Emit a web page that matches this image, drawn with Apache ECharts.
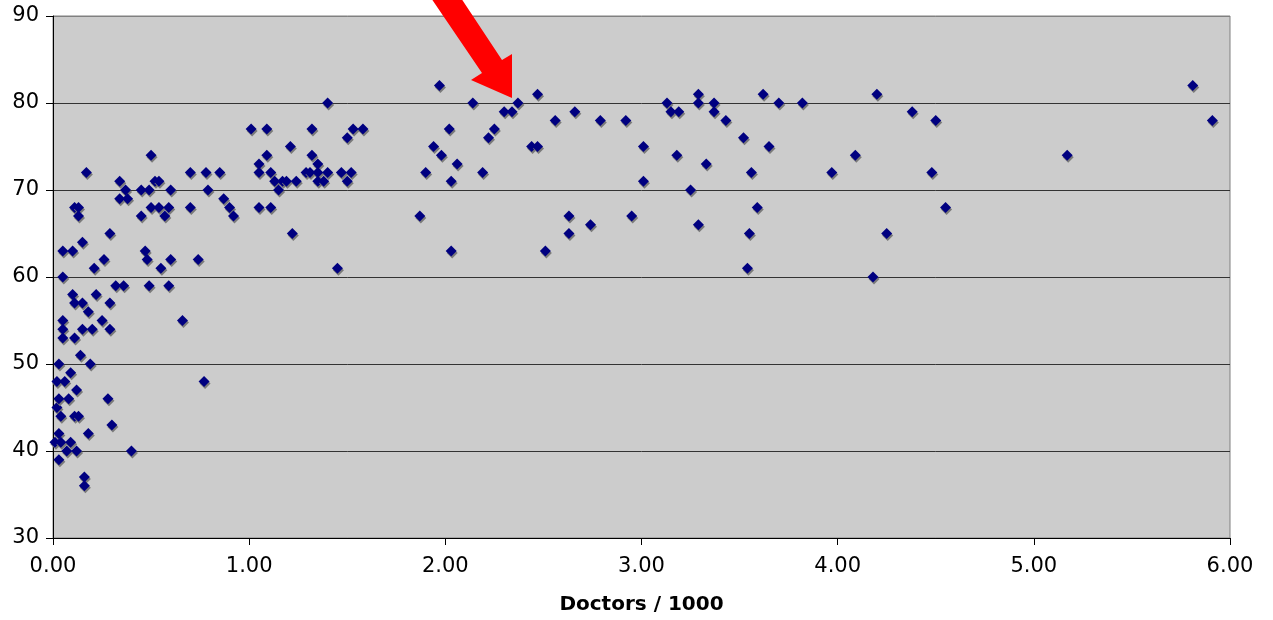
<!DOCTYPE html>
<html>
<head>
<meta charset="utf-8">
<script src="https://cdn.jsdelivr.net/npm/echarts@6/dist/echarts.min.js"></script>
<style>
  html, body { margin: 0; padding: 0; background: #fff; }
  #chart { width: 1273px; height: 620px; }
</style>
</head>
<body>
<div id="chart"></div>
<script>
// doctors per 1000 people vs life expectancy, one point per country

const xAxisName = 'Doctors / 1000'
const xRange = [0, 6]
const yRange = [30, 90]

// [doctors / 1000, life expectancy]
const points = [
    // under 0.5
    [0.01, 41], [0.02, 48], [0.02, 45], [0.03, 50], [0.03, 46], [0.03, 42], [0.03, 39],
    [0.04, 44], [0.04, 41], [0.05, 63], [0.05, 60], [0.05, 55], [0.05, 54], [0.05, 53],
    [0.06, 48], [0.07, 40], [0.08, 46], [0.09, 49], [0.09, 41], [0.10, 63], [0.10, 58],
    [0.11, 68], [0.11, 57], [0.11, 53], [0.11, 44], [0.12, 47], [0.12, 40], [0.13, 68],
    [0.13, 67], [0.13, 44], [0.14, 51], [0.15, 64], [0.15, 57], [0.15, 54], [0.16, 37],
    [0.16, 36], [0.17, 72], [0.18, 56], [0.18, 42], [0.19, 50], [0.20, 54], [0.21, 61],
    [0.22, 58], [0.25, 55], [0.26, 62], [0.28, 46], [0.29, 65], [0.29, 57], [0.29, 54],
    [0.30, 43], [0.32, 59], [0.34, 71], [0.34, 69], [0.36, 59], [0.37, 70], [0.38, 69],
    [0.40, 40], [0.45, 70], [0.45, 67], [0.47, 63], [0.48, 62], [0.49, 70], [0.49, 59],
    // 0.5 - 1
    [0.50, 74], [0.50, 68], [0.52, 71], [0.54, 71], [0.54, 68], [0.55, 61], [0.57, 67],
    [0.59, 68], [0.59, 59], [0.60, 70], [0.60, 62], [0.66, 55], [0.70, 72], [0.70, 68],
    [0.74, 62], [0.77, 48], [0.78, 72], [0.79, 70], [0.85, 72], [0.87, 69], [0.90, 68],
    [0.92, 67],
    // 1 - 2
    [1.01, 77], [1.05, 73], [1.05, 72], [1.05, 68], [1.09, 77], [1.09, 74], [1.11, 72],
    [1.11, 68], [1.13, 71], [1.15, 70], [1.17, 71], [1.19, 71], [1.21, 75], [1.22, 65],
    [1.24, 71], [1.29, 72], [1.31, 72], [1.32, 77], [1.32, 74], [1.35, 73], [1.35, 72],
    [1.35, 71], [1.38, 71], [1.40, 80], [1.40, 72], [1.45, 61], [1.47, 72], [1.50, 76],
    [1.50, 71], [1.52, 72], [1.53, 77], [1.58, 77], [1.87, 67], [1.90, 72], [1.94, 75],
    [1.97, 82], [1.98, 74],
    // 2 - 3
    [2.02, 77], [2.03, 71], [2.03, 63], [2.06, 73], [2.14, 80], [2.19, 72], [2.22, 76],
    [2.25, 77], [2.30, 79], [2.34, 79], [2.37, 80], [2.44, 75], [2.47, 81], [2.47, 75],
    [2.51, 63], [2.56, 78], [2.63, 67], [2.63, 65], [2.66, 79], [2.74, 66], [2.79, 78],
    [2.92, 78], [2.95, 67],
    // 3 and up
    [3.01, 75], [3.01, 71], [3.13, 80], [3.15, 79], [3.18, 74], [3.19, 79], [3.25, 70],
    [3.29, 81], [3.29, 80], [3.29, 66], [3.33, 73], [3.37, 80], [3.37, 79], [3.43, 78],
    [3.52, 76], [3.54, 61], [3.55, 65], [3.56, 72], [3.59, 68], [3.62, 81], [3.65, 75],
    [3.70, 80], [3.82, 80], [3.97, 72], [4.09, 74], [4.18, 60], [4.20, 81], [4.25, 65],
    [4.38, 79], [4.48, 72], [4.50, 78], [4.55, 68], [5.17, 74], [5.81, 82], [5.91, 78]
]

// red arrow (annotation, in pixels of the picture)
const arrowShape = [
    [429, -5], [482, 73], [471, 80], [512, 98], [512, 54], [502, 60], [459, -5]
]

const chart = echarts.init(document.getElementById('chart'))

const options = {
    animation: false,
    grid: {
        left: 53,
        right: 43,
        top: 16,
        bottom: 77,
        show: true,
        backgroundColor: '#cccccc',
        borderColor: '#808080',
        borderWidth: 1
    },
    xAxis: {
        type: 'value',
        min: xRange[0],
        max: xRange[1],
        interval: 1,
        name: xAxisName,
        nameLocation: 'middle',
        nameGap: 57,
        nameTextStyle: {
            fontFamily: 'DejaVu Sans',
            fontWeight: 'bold',
            fontSize: 20,
            color: '#000'
        },
        axisLine: { lineStyle: { color: '#000', width: 1 } },
        axisTick: { show: true, inside: false, length: 7, lineStyle: { color: '#000', width: 1 } },
        axisLabel: {
            margin: 18,
            fontFamily: 'DejaVu Sans',
            fontSize: 21,
            color: '#000',
            formatter: v => v.toFixed(2)
        },
        splitLine: { show: false }
    },
    yAxis: {
        type: 'value',
        min: yRange[0],
        max: yRange[1],
        interval: 10,
        axisLine: { show: true, lineStyle: { color: '#000', width: 1 } },
        axisTick: { show: true, inside: false, length: 7, lineStyle: { color: '#000', width: 1 } },
        axisLabel: {
            margin: 14,
            fontFamily: 'DejaVu Sans',
            fontSize: 21,
            color: '#000'
        },
        splitLine: {
            show: true,
            lineStyle: {
                color: ['#000', '#333', '#333', '#333', '#333', '#333', '#808080'],
                width: 1
            }
        }
    },
    series: [
        {
            type: 'scatter',
            symbol: 'diamond',
            symbolSize: 11,
            data: points,
            itemStyle: {
                color: '#000080',
                opacity: 1,
                shadowColor: '#7a7a7a',
                shadowOffsetX: 1,
                shadowOffsetY: 2,
                shadowBlur: 0
            },
            emphasis: { disabled: true }
        }
    ],
    graphic: [
        {
            type: 'polygon',
            z: 100,
            shape: { points: arrowShape },
            style: { fill: '#ff0000' }
        }
    ]
}

chart.setOption(options)
</script>
</body>
</html>
